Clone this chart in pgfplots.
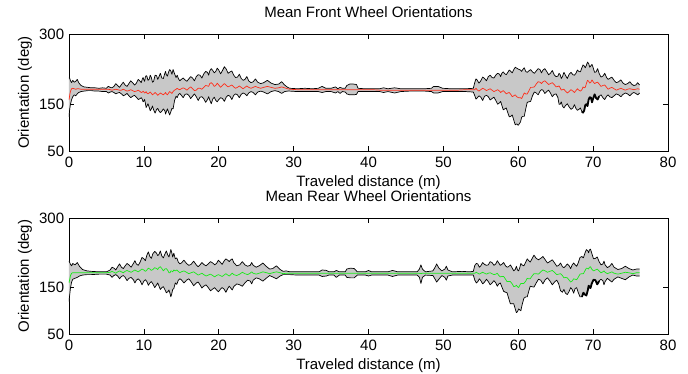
\documentclass[border=0pt]{standalone}
\usepackage{fontspec}
\setmainfont{Liberation Sans}
\usepackage{pgfplots}
\usepackage{pgfplotstable}
\pgfplotsset{compat=1.18}

\definecolor{bandgray}{RGB}{200,200,200}
\definecolor{meanred}{RGB}{255,45,25}
\definecolor{meangreen}{RGB}{25,235,25}

% front wheel: distance, upper bound, lower bound, mean orientation
\pgfplotstableread{
x up lo m
0.00 207 123 159
0.10 205 140 170
0.20 200 150 178
0.35 196 160 183
0.50 201 166 184
0.70 197 170 183
0.90 199 168 182
1.10 203 172 183
1.30 196 175 183
1.60 190 177 182
2.00 187 178 182
2.50 186 179 182
3.00 185 179 182
3.50 185 178 182
4.00 184 178 182
4.50 185 177 182
5.00 184 177 182
5.25 188 174 182
5.50 186 176 181
5.75 185 177 180
6.00 188 175 181
6.25 194 172 182
6.50 190 174 181
6.75 186 175 180
7.00 192 172 180
7.25 197 168 182
7.50 191 170 180
7.75 188 173 178
8.00 194 168 179
8.25 200 164 181
8.50 196 167 179
8.75 191 169 177
9.00 195 165 178
9.25 203 160 180
9.50 199 162 177
9.65 196 164 175
9.80 204 160 176
9.90 207 155 178
10.00 202 157 176
10.10 199 160 174
10.20 208 152 175
10.30 211 143 177
10.40 210 146 174
10.55 201 151 172
10.70 203 144 174
10.85 212 136 176
11.00 207 140 173
11.15 197 146 170
11.30 199 138 172
11.50 212 131 175
11.70 211 139 172
11.85 203 141 169
12.00 208 136 171
12.20 216 132 174
12.40 206 135 172
12.60 205 140 170
12.80 216 136 173
12.90 220 129 175
13.00 213 134 172
13.15 210 140 170
13.30 219 133 174
13.45 224 127 177
13.60 221 134 175
13.75 214 141 173
13.90 224 140 177
14.10 215 158 180
14.30 207 167 182
14.45 212 164 184
14.60 205 170 182
14.80 200 173 181
15.00 203 169 183
15.25 206 164 185
15.50 202 171 183
15.75 199 172 180
16.00 204 169 184
16.25 209 162 187
16.50 206 167 183
16.75 200 172 179
17.00 209 166 180
17.25 213 158 184
17.50 212 165 184
17.75 206 166 182
18.00 215 162 186
18.25 220 154 190
18.50 218 160 189
18.65 212 166 188
18.80 221 159 194
19.00 226 151 196
19.20 222 161 193
19.40 217 165 188
19.60 220 158 190
19.80 227 155 195
20.00 223 160 191
20.25 215 164 186
20.50 222 162 190
20.75 230 156 194
21.00 225 165 190
21.25 216 169 187
21.50 219 167 189
21.75 221 160 191
22.00 212 169 187
22.25 207 172 184
22.50 208 170 186
22.75 214 164 189
23.00 205 171 186
23.25 201 174 183
23.50 203 172 186
23.75 209 168 189
24.00 200 174 186
24.30 196 177 184
24.60 198 175 186
24.90 204 170 188
25.20 197 176 186
25.60 194 178 184
26.00 196 176 186
26.50 201 172 188
27.00 195 177 186
27.50 192 179 184
28.00 193 177 185
28.40 198 173 187
28.80 191 177 185
29.20 186 178 183
29.50 184 178 182
30.50 183 177 181
31.50 184 177 181
32.50 183 177 181
33.30 184 177 181
33.80 188 175 181
34.30 184 177 181
35.00 184 177 181
35.60 187 174 181
35.90 183 177 181
36.20 186 173 181
36.50 184 177 181
36.90 184 176 181
37.10 190 172 181
37.50 193 170 181
38.00 193 170 181
38.40 192 171 181
38.60 184 177 181
39.50 183 177 181
40.50 183 177 181
41.50 183 177 180
42.00 185 175 180
42.60 183 177 180
43.50 185 174 180
44.30 183 177 180
45.50 183 178 180
46.50 183 178 180
47.50 183 178 180
48.40 184 177 180
48.70 188 174 180
49.30 188 174 180
49.90 184 177 180
51.00 183 177 180
52.00 183 177 180
53.00 183 177 181
54.00 184 176 181
54.20 197 168 181
54.35 204 161 184
54.50 202 163 181
54.75 195 168 178
55.00 200 165 181
55.25 208 158 184
55.50 205 167 182
55.75 200 169 179
56.00 209 166 181
56.25 212 159 183
56.50 207 162 180
56.75 206 165 177
57.00 212 158 179
57.25 216 150 181
57.50 214 153 178
57.65 209 156 175
57.80 216 148 177
58.00 219 138 179
58.20 215 140 176
58.40 213 142 172
58.60 218 132 174
58.80 223 123 175
59.00 220 124 171
59.20 217 127 166
59.40 224 116 168
59.60 229 106 170
59.80 227 108 166
60.00 225 105 164
60.30 223 112 164
60.45 220 122 162
60.60 224 124 167
60.80 228 124 174
61.00 220 140 172
61.20 218 154 172
61.40 221 155 178
61.65 224 156 186
61.90 219 168 186
62.15 216 176 187
62.40 221 174 193
62.65 226 170 198
62.90 224 178 197
63.10 217 181 194
63.30 223 180 198
63.55 226 173 200
63.80 220 177 196
64.05 213 180 192
64.30 216 174 194
64.55 222 166 196
64.80 213 171 192
65.05 209 172 187
65.30 210 164 188
65.45 216 150 189
65.60 213 150 185
65.75 205 155 180
65.90 209 146 181
66.10 218 142 182
66.30 212 147 178
66.55 205 151 174
66.80 214 144 177
67.05 218 139 181
67.30 213 142 178
67.50 212 149 175
67.70 216 141 179
67.90 223 137 183
68.10 220 139 180
68.30 219 142 178
68.50 228 134 181
68.65 234 132 187
68.80 232 136 185
68.95 228 148 186
69.10 233 150 194
69.25 240 146 201
69.40 237 160 199
69.55 229 165 195
69.70 232 164 197
69.85 235 154 202
70.00 228 162 198
70.20 218 171 194
70.40 219 163 196
70.60 226 160 197
70.80 216 167 193
71.05 208 170 188
71.30 210 164 190
71.55 216 160 191
71.80 207 167 186
72.00 203 170 182
72.20 205 166 184
72.50 208 164 186
72.80 201 168 183
73.10 196 172 180
73.40 198 170 182
73.70 202 166 184
74.00 195 171 182
74.30 192 174 180
74.60 194 172 182
74.90 198 168 183
75.20 192 173 182
75.45 190 175 181
75.70 191 173 182
75.95 196 170 183
76.20 191 174 182
}\front

% rear wheel: distance, upper bound, lower bound, mean orientation
\pgfplotstableread{
x up lo m
0.00 207 120 160
0.10 204 135 168
0.20 200 150 176
0.35 197 162 181
0.50 202 168 182
0.80 199 170 182
1.10 204 172 182
1.40 196 175 182
1.80 189 177 182
2.40 186 178 182
3.00 185 178 182
4.00 184 179 182
5.00 184 179 182
5.50 188 177 183
5.75 194 172 185
6.00 192 176 183
6.25 188 178 181
6.50 195 175 184
6.75 201 169 186
7.00 194 174 184
7.25 191 176 182
7.50 197 172 185
7.75 202 165 187
8.00 199 170 185
8.30 194 172 183
8.60 202 167 186
8.80 208 160 188
9.00 201 166 186
9.25 198 169 184
9.50 205 165 187
9.75 215 156 190
10.00 212 164 188
10.20 208 167 185
10.40 220 163 188
10.60 227 155 192
10.80 217 160 190
11.00 213 163 187
11.20 223 158 189
11.45 228 150 193
11.70 224 156 191
11.85 219 160 189
12.00 221 154 193
12.20 229 146 195
12.40 218 150 191
12.60 214 152 186
12.80 222 146 190
13.00 229 139 191
13.20 220 141 187
13.35 216 145 182
13.50 225 137 182
13.60 232 130 186
13.70 227 135 186
13.85 216 146 184
14.00 224 148 188
14.20 212 160 186
14.40 214 157 188
14.60 205 166 185
14.80 201 169 182
15.00 203 167 184
15.35 209 160 186
15.70 202 166 183
16.00 198 169 180
16.30 200 163 182
16.65 207 154 184
17.00 199 160 180
17.25 195 162 177
17.50 199 156 179
17.75 204 149 181
18.00 200 153 178
18.30 197 156 175
18.60 201 150 177
18.90 206 143 179
19.20 203 147 176
19.45 199 150 173
19.70 202 145 176
19.95 209 141 178
20.20 205 146 176
20.45 200 150 174
20.70 207 147 177
20.95 212 140 180
21.20 209 148 177
21.40 206 153 175
21.60 210 149 178
21.80 212 145 181
22.00 204 152 178
22.40 197 158 176
22.80 199 156 179
23.15 206 153 183
23.50 199 160 180
23.85 196 166 178
24.20 198 164 181
24.40 204 158 184
24.60 198 166 181
25.00 194 171 179
25.40 197 169 181
25.90 203 164 184
26.40 195 171 182
26.80 190 176 180
27.20 191 173 182
27.70 197 169 184
28.20 189 175 182
28.60 185 178 180
29.00 186 178 181
29.50 184 178 181
30.50 184 177 181
31.50 184 177 181
32.50 184 177 181
33.40 184 177 181
33.80 188 174 181
34.40 187 175 181
34.70 184 177 181
35.40 184 177 181
35.70 187 172 181
36.10 184 177 181
36.90 184 177 181
37.10 190 172 181
37.60 192 171 181
38.10 191 171 181
38.50 184 177 181
39.60 184 177 181
40.00 187 175 181
40.40 184 177 181
42.60 184 177 181
43.20 187 174 181
43.90 184 177 181
46.50 184 177 181
46.80 190 172 181
47.00 199 159 180
47.20 190 172 181
47.60 184 177 181
48.60 186 176 181
48.90 194 168 181
49.10 201 162 181
49.40 192 168 181
49.80 186 176 181
50.20 190 172 181
50.40 196 166 181
50.60 188 175 181
51.20 184 177 181
52.50 185 177 181
53.50 184 177 181
54.00 185 177 181
54.20 198 166 181
54.40 202 160 183
54.60 201 163 181
54.80 194 169 179
55.00 197 165 181
55.25 204 158 183
55.50 200 162 181
55.75 198 168 179
56.00 199 163 181
56.25 206 156 182
56.50 204 160 180
56.75 198 165 178
57.00 201 160 179
57.20 208 153 181
57.40 203 158 176
57.60 198 160 173
57.80 200 152 174
58.05 204 142 174
58.30 197 140 168
58.50 194 139 163
58.70 195 128 163
58.95 199 115 163
59.20 192 115 158
59.40 186 115 152
59.60 189 104 153
59.75 196 96 155
59.90 188 98 152
60.05 186 104 150
60.20 193 102 155
60.35 202 100 159
60.50 199 112 159
60.75 197 127 159
61.00 205 130 164
61.20 212 130 170
61.40 208 142 169
61.60 205 153 169
61.80 211 152 174
62.10 220 151 180
62.40 213 160 180
62.70 210 168 179
63.00 213 166 184
63.30 217 158 188
63.60 210 167 186
63.90 203 171 183
64.20 206 165 185
64.55 210 156 187
64.90 202 163 182
65.15 196 166 178
65.40 198 158 179
65.65 203 143 180
65.90 195 140 176
66.10 193 146 171
66.30 196 138 172
66.55 201 135 171
66.80 197 142 166
67.00 191 150 162
67.20 199 146 164
67.40 203 138 169
67.60 199 148 168
67.80 196 150 167
68.00 203 140 172
68.25 215 130 179
68.50 217 130 180
68.70 214 139 180
68.90 224 135 186
69.10 232 133 192
69.30 229 145 191
69.40 225 154 190
69.50 231 152 194
69.65 233 149 195
69.80 225 158 190
70.05 212 167 186
70.30 213 166 188
70.55 216 157 190
70.80 206 164 186
71.05 199 168 182
71.30 201 165 184
71.45 207 156 186
71.60 199 163 183
71.90 193 170 180
72.20 196 166 182
72.50 202 162 184
72.80 194 168 181
73.30 189 173 179
73.80 191 170 181
74.30 196 167 183
74.80 191 173 182
75.30 188 177 180
75.80 190 175 182
76.20 190 175 182
}\rear

\pgfplotsset{
  wheelaxis/.style={
    scale only axis, width=599pt,
    anchor=south west,
    xmin=0, xmax=80, ymin=50, ymax=300,
    xtick={0,10,...,80}, ytick={50,150,300},
    tick align=inside, major tick length=5pt,
    axis line style={line width=0.8pt},
    every tick/.style={black, line width=0.7pt},
    no markers,
    /pgf/number format/assume math mode=true,
    tick label style={font=\fontsize{15}{18}\selectfont},
    label style={font=\fontsize{15}{18}\selectfont},
    title style={font=\fontsize{15}{18}\selectfont,
      at={(axis description cs:0.5,1)}, anchor=base, yshift=11pt},
    xticklabel style={anchor=north, inner sep=0pt, yshift=-6pt},
    yticklabel style={anchor=east, inner sep=0pt, xshift=-4.7pt},
    xlabel={Traveled distance (m)},
    ylabel={Orientation (deg)},
    xlabel style={at={(axis description cs:0.5,0)}, anchor=base, yshift=-35pt},
    ylabel style={at={(axis description cs:-0.0735,0.5)}, anchor=center},
    every axis plot/.append style={line join=round, sharp plot},
  },
  % spread band: lower bound as base, band height stacked on top of it
  band/.style={fill=bandgray, draw=none, stack plots=y},
  edge/.style={black, line width=0.7pt, stack plots=false},
}

\begin{document}
\begin{tikzpicture}
\path[use as bounding box] (0pt,0pt) rectangle (688pt,373pt);

\begin{axis}[wheelaxis, at={(69pt,222pt)}, height=117pt,
  title={Mean Front Wheel Orientations}]
  \addplot[draw=none, stack plots=y, forget plot] table[x=x,y=lo]{\front};
  \addplot[band] table[x=x, y expr=\thisrow{up}-\thisrow{lo}]{\front} \closedcycle;
  \addplot[edge] table[x=x,y=up]{\front};
  \addplot[edge] table[x=x,y=lo]{\front};
  % overlapping runs darken the lower edge here
  \addplot[edge, line width=1.8pt, restrict x to domain=68.4:70.9] table[x=x,y=lo]{\front};
  \addplot[meanred, line width=0.7pt, stack plots=false] table[x=x,y=m]{\front};
\end{axis}

\begin{axis}[wheelaxis, at={(69pt,39pt)}, height=116pt,
  title={Mean Rear Wheel Orientations}]
  \addplot[draw=none, stack plots=y, forget plot] table[x=x,y=lo]{\rear};
  \addplot[band] table[x=x, y expr=\thisrow{up}-\thisrow{lo}]{\rear} \closedcycle;
  \addplot[edge] table[x=x,y=up]{\rear};
  \addplot[edge] table[x=x,y=lo]{\rear};
  \addplot[edge, line width=1.8pt, restrict x to domain=68.4:70.9] table[x=x,y=lo]{\rear};
  \addplot[meangreen, line width=0.7pt, stack plots=false] table[x=x,y=m]{\rear};
\end{axis}
\end{tikzpicture}
\end{document}
